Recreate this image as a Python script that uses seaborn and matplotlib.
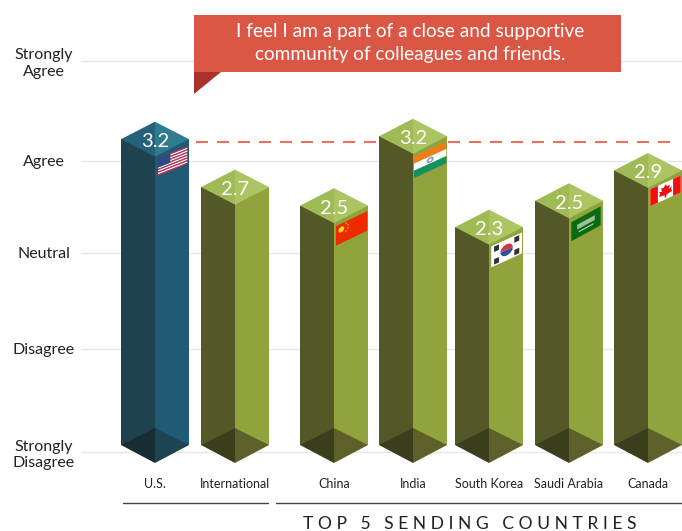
import numpy as np
import pandas as pd
import seaborn as sns
import matplotlib.pyplot as plt

# chart data
categories = ["U.S.", "International", "China", "India", "South Korea", "Saudi Arabia", "Canada"]
bar_values = [3.20, 2.71, 2.52, 3.23, 2.30, 2.57, 2.88]
value_labels = ["3.2", "2.7", "2.5", "3.2", "2.3", "2.5", "2.9"]
scale_labels = ["Strongly\nDisagree", "Disagree", "Neutral", "Agree", "Strongly\nAgree"]
scale_levels = [0, 1.054, 2.036, 2.977, 4]
us_reference = 3.17
title = "I feel I am a part of a close and supportive\ncommunity of colleagues and friends."
group_label = "T O P   5   S E N D I N G   C O U N T R I E S"

# layout, all in pixels of the 682x531 picture
bar_centers = [155, 235, 334, 413, 489, 569, 648]
half_w = 34
half_h = 17.5
U = 97.75  # pixels per scale unit
Y0 = 452   # pixel row of the scale's zero


def val(py):
    return (Y0 - py) / U


sns.set_theme(style="white")
plt.rcParams['font.family'] = ['Lato', 'DejaVu Sans']

fig = plt.figure(figsize=(6.82, 5.31), dpi=100)
ax = fig.add_axes([81 / 682, (531 - 464) / 531, (682 - 81) / 682, 464 / 531])

df = pd.DataFrame({
    "x": bar_centers * 2,
    "value": bar_values * 2,
    "side": ["left"] * 7 + ["right"] * 7,
})
sns.barplot(data=df, x="x", y="value", hue="side", native_scale=True, dodge=True, gap=0,
            width=2 * half_w / np.diff(bar_centers).min(),
            palette={"left": "#535826", "right": "#91a33c"}, legend=False, ax=ax, zorder=1)

# faces per bar: left, right, top left, top right, bottom left, bottom right
blue_faces = ["#1f4250", "#215a74", "#25617b", "#2f7b90", "#172c35", "#1e4454"]
green_faces = ["#535826", "#91a33c", "#9ebb55", "#abc562", "#3b3e1d", "#5d6129"]
bars = list(ax.patches)
for i in range(7):
    faces = blue_faces if i == 0 else green_faces
    for p, c in ((bars[i], faces[0]), (bars[i + 7], faces[1])):
        p.set_y(val(445))
        p.set_height(bar_values[i] - val(445))
        p.set_facecolor(c)
        p.set_edgecolor("none")


def tri(pts, color, z=2):
    xs, ys = zip(*pts)
    ax.fill(xs, ys, color=color, lw=0, zorder=z)


dh = half_h / U
for i, (cx, v) in enumerate(zip(bar_centers, bar_values)):
    faces = blue_faces if i == 0 else green_faces
    tri([(cx - half_w, v), (cx, v + dh), (cx, v - dh)], faces[2])
    tri([(cx + half_w, v), (cx, v + dh), (cx, v - dh)], faces[3])
    tri([(cx - half_w, val(445)), (cx, val(428)), (cx, val(463))], faces[4])
    tri([(cx + half_w, val(445)), (cx, val(428)), (cx, val(463))], faces[5])
    ax.text(cx, v - 2.5 / U, value_labels[i], color="white", fontsize=14.5, ha="center", va="center", zorder=6)

ax.hlines(us_reference, 196, 672, color="#e8705f", lw=1.5, linestyle=(0, (5.76, 4.32)), zorder=0.9)


# flags sit on the right face of the bar, offsets from its front corner
def flag_frame(i, x0, x1, dy0, dy1, h):
    cx = bar_centers[i]
    front = bar_values[i] - dh

    def f(u, w):
        u = np.asarray(u, dtype=float)
        w = np.asarray(w, dtype=float)
        x = cx + x0 + u * (x1 - x0)
        y = front - (dy0 + u * (dy1 - dy0) + w * h) / U
        return x, y
    return f


def quad(f, u0, w0, u1, w1, color):
    x, y = f([u0, u1, u1, u0], [w0, w0, w1, w1])
    ax.fill(x, y, color=color, lw=0, zorder=4)


def shape(f, us, ws, color):
    x, y = f(us, ws)
    ax.fill(x, y, color=color, lw=0, zorder=5)


def disc(f, cu, cw, ru, rw, color, a0=0, a1=2 * np.pi):
    t = np.linspace(a0, a1, 30)
    shape(f, cu + ru * np.cos(t), cw + rw * np.sin(t), color)


# U.S.
f = flag_frame(0, 3, 32.3, 1.3, -10.3, 17.7)
for k in range(13):
    quad(f, 0, k / 13, 1, (k + 1) / 13, "#cf2a55" if k % 2 == 0 else "#ffffff")
quad(f, 0, 0, 0.42, 7 / 13, "#2b4a86")

# China
f = flag_frame(2, 2, 33.3, 3, -12, 19.5)
quad(f, 0, 0, 1, 1, "#ee2b00")
disc(f, 0.17, 0.3, 0.09, 0.14, "#ffde00")
for su, sw in [(0.32, 0.1), (0.38, 0.22), (0.38, 0.38), (0.32, 0.5)]:
    disc(f, su, sw, 0.025, 0.04, "#ffc800")

# India
f = flag_frame(3, 1, 33.3, 2.7, -12, 21.5)
quad(f, 0, 0, 1, 1 / 3, "#ef7d1a")
quad(f, 0, 1 / 3, 1, 2 / 3, "#ffffff")
quad(f, 0, 2 / 3, 1, 1, "#11935f")
disc(f, 0.5, 0.5, 0.11, 0.13, "#8f97c4")
disc(f, 0.5, 0.5, 0.05, 0.06, "#ffffff")

# South Korea
f = flag_frame(4, 2.3, 33, 1.7, -12.3, 21)
quad(f, 0, 0, 1, 1, "#ffffff")
disc(f, 0.5, 0.5, 0.2, 0.27, "#d8363f", np.pi, 2 * np.pi)
disc(f, 0.5, 0.5, 0.2, 0.27, "#31509e", 0, np.pi)
for cu, cw in [(0.17, 0.2), (0.83, 0.2), (0.17, 0.8), (0.83, 0.8)]:
    quad(f, cu - 0.08, cw - 0.13, cu + 0.08, cw + 0.13, "#333333")

# Saudi Arabia
f = flag_frame(5, 2.3, 31.7, 4, -12, 19)
quad(f, 0, 0, 1, 1, "#0b6b12")
quad(f, 0.2, 0.3, 0.8, 0.55, "#9dc09a")
quad(f, 0.25, 0.68, 0.75, 0.74, "#c8dcc6")

# Canada
f = flag_frame(6, 2.3, 32.7, 1.2, -12.5, 17)
quad(f, 0, 0, 1, 1, "#ffffff")
quad(f, 0, 0, 0.25, 1, "#f01010")
quad(f, 0.75, 0, 1, 1, "#f01010")
leaf_u = [0.5, 0.56, 0.64, 0.62, 0.72, 0.68, 0.72, 0.53, 0.52, 0.48, 0.47, 0.28, 0.32, 0.28, 0.38, 0.36, 0.44]
leaf_w = [0.12, 0.28, 0.24, 0.48, 0.38, 0.52, 0.68, 0.74, 0.9, 0.9, 0.74, 0.68, 0.52, 0.38, 0.48, 0.24, 0.28]
shape(f, leaf_u, leaf_w, "#f01010")

# title banner
tri([(194, val(15)), (621, val(15)), (621, val(72)), (194, val(72))], "#db5745", 7)
tri([(194, val(72)), (221, val(72)), (194, val(94))], "#a9322d", 7)
ax.text(410, val(43), title, color="white", fontsize=13.7, ha="center", va="center",
        linespacing=1.45, zorder=8)

# group rules under the bars
ax.plot([123, 268], [val(503), val(503)], color="#444444", lw=1, clip_on=False)
ax.plot([276, 682], [val(503), val(503)], color="#444444", lw=1, clip_on=False)
ax.text(470, val(524), group_label, color="#222222", fontsize=12.6, ha="center", va="center", clip_on=False)

ax.set_xlim(81, 682)
ax.set_ylim(val(464), val(0))
ax.set_yticks(scale_levels)
ax.set_yticklabels(scale_labels, ha="center", multialignment="center", linespacing=1.25,
                   fontsize=11.5, color="#222222")
ax.set_xticks(bar_centers)
ax.set_xticklabels(categories, fontsize=9, color="#222222")
ax.tick_params(axis="y", length=0, pad=27)
ax.tick_params(axis="x", length=0, pad=10)
ax.set_xlabel("")
ax.set_ylabel("")
ax.set_axisbelow(True)
ax.grid(axis="y", color="#e8e8e8", lw=1)
ax.grid(axis="x", visible=False)
sns.despine(ax=ax, left=True, bottom=True)

fig.savefig("out.png", dpi=100)
